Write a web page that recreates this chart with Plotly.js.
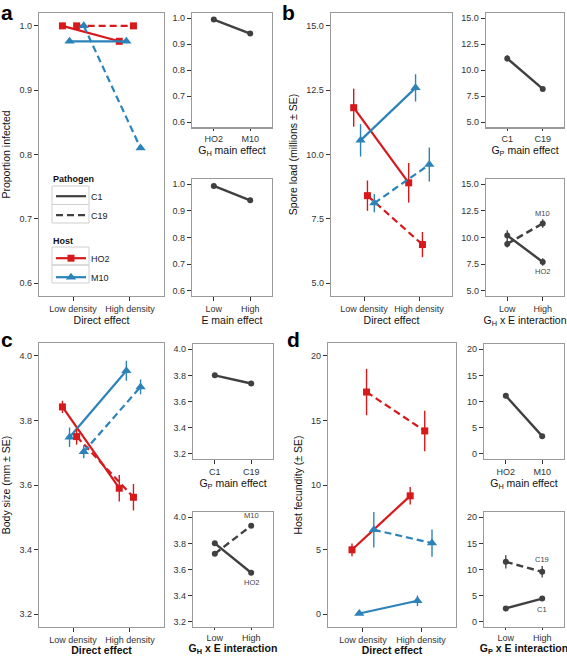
<!DOCTYPE html>
<html><head><meta charset="utf-8">
<script src="https://cdn.plot.ly/plotly-3.0.1.min.js"></script>
<style>body{margin:0;background:#fff}#chart{width:567px;height:656px}</style>
</head><body><div id="chart"></div>
<script>
// ---------- categories / tick labels ----------
const densities = ["Low density", "High density"];
const densityShort = ["Low", "High"];
const hostNames = ["HO2", "M10"];
const pathogenNames = ["C1", "C19"];

// ---------- panel a: proportion infected ----------
const infHO2C1 = [1.0, 0.976];
const infM10C1 = [0.976, 0.976];
const infHO2C19 = [1.0, 1.0];
const infM10C19 = [1.0, 0.81];
const infHostMain = [0.995, 0.941];      // G_H main effect (HO2, M10)
const infEnvMain = [0.994, 0.940];       // E main effect (Low, High)

// ---------- panel b: spore load ----------
const sporeHO2C1 = [11.82, 8.90],  sporeHO2C1SE = [0.74, 0.77];
const sporeM10C1 = [10.55, 12.59], sporeM10C1SE = [0.63, 0.53];
const sporeHO2C19 = [8.40, 6.50],  sporeHO2C19SE = [0.59, 0.49];
const sporeM10C19 = [8.11, 9.61],  sporeM10C19SE = [0.36, 0.66];
const sporePathMain = [11.13, 8.21], sporePathMainSE = [0.30, 0.15];   // C1, C19
const sporeIntHO2 = [10.19, 7.70], sporeIntHO2SE = [0.50, 0.35];       // Low, High
const sporeIntM10 = [9.40, 11.32], sporeIntM10SE = [0.35, 0.40];

// ---------- panel c: body size ----------
const sizeHO2C1 = [3.842, 3.590],  sizeHO2C1SE = [0.019, 0.041];
const sizeM10C1 = [3.748, 3.954],  sizeM10C1SE = [0.030, 0.031];
const sizeHO2C19 = [3.750, 3.562], sizeHO2C19SE = [0.025, 0.041];
const sizeM10C19 = [3.703, 3.904], sizeM10C19SE = [0.020, 0.023];
const sizePathMain = [3.800, 3.738];
const sizeIntHO2 = [3.800, 3.575];
const sizeIntM10 = [3.720, 3.935];

// ---------- panel d: host fecundity ----------
const fecHO2C1 = [4.98, 9.16],   fecHO2C1SE = [0.49, 0.68];
const fecM10C1 = [0.05, 1.03],   fecM10C1SE = [0.0, 0.41];
const fecHO2C19 = [17.20, 14.19], fecHO2C19SE = [1.80, 1.57];
const fecM10C19 = [6.53, 5.50],  fecM10C19SE = [1.37, 1.05];
const fecHostMain = [11.10, 3.37], fecHostMainSE = [0.50, 0.25];
const fecIntC1 = [2.55, 4.43],   fecIntC1SE = [0.25, 0.35];
const fecIntC19 = [11.46, 9.56], fecIntC19SE = [1.27, 1.10];

// ---------- styling ----------
const RED = "#d7191c", BLUE = "#2b83ba", GRAY = "#404040";
const FONT = "Liberation Sans, Arial, sans-serif";
const W = 567, H = 656;
const DASH = "7px,4px";
const dodge = {HO2C1: -0.1875, M10C1: -0.0625, HO2C19: 0.0625, M10C19: 0.1875};

function xd(l, r) { return [l / W, r / W]; }
function yd(t, b) { return [1 - b / H, 1 - t / H]; }

const traces = [];
function mainTrace(ax, vals, se, host, path) {
  const col = host === "HO2" ? RED : BLUE;
  const off = dodge[host + path];
  const t = {
    type: "scatter", mode: "lines+markers", xaxis: "x" + ax, yaxis: "y" + ax,
    x: vals.map((v, i) => i + 1 + off), y: vals,
    line: {color: col, width: 2.2, dash: path === "C19" ? DASH : "solid"},
    marker: {symbol: host === "HO2" ? "square" : "triangle-up", size: host === "HO2" ? 7 : 9, color: col},
    showlegend: false, hoverinfo: "skip"
  };
  if (se) t.error_y = {type: "data", array: se, width: 0, thickness: 1.4, color: col};
  traces.push(t);
}
function smallTrace(ax, vals, se, dashed) {
  const t = {
    type: "scatter", mode: "lines+markers", xaxis: "x" + ax, yaxis: "y" + ax,
    x: vals.map((v, i) => i + 1), y: vals,
    line: {color: GRAY, width: 2.4, dash: dashed ? DASH : "solid"},
    marker: {symbol: "circle", size: 6, color: GRAY},
    showlegend: false, hoverinfo: "skip"
  };
  if (se) t.error_y = {type: "data", array: se, width: 0, thickness: 1.3, color: GRAY};
  traces.push(t);
}

// panel a
mainTrace("", infHO2C1, null, "HO2", "C1");
mainTrace("", infM10C1, null, "M10", "C1");
mainTrace("", infHO2C19, null, "HO2", "C19");
mainTrace("", infM10C19, null, "M10", "C19");
smallTrace("2", infHostMain, null, false);
smallTrace("3", infEnvMain, null, false);
// panel b
mainTrace("4", sporeHO2C1, sporeHO2C1SE, "HO2", "C1");
mainTrace("4", sporeM10C1, sporeM10C1SE, "M10", "C1");
mainTrace("4", sporeHO2C19, sporeHO2C19SE, "HO2", "C19");
mainTrace("4", sporeM10C19, sporeM10C19SE, "M10", "C19");
smallTrace("5", sporePathMain, sporePathMainSE, false);
smallTrace("6", sporeIntHO2, sporeIntHO2SE, false);
smallTrace("6", sporeIntM10, sporeIntM10SE, true);
// panel c
mainTrace("7", sizeHO2C1, sizeHO2C1SE, "HO2", "C1");
mainTrace("7", sizeM10C1, sizeM10C1SE, "M10", "C1");
mainTrace("7", sizeHO2C19, sizeHO2C19SE, "HO2", "C19");
mainTrace("7", sizeM10C19, sizeM10C19SE, "M10", "C19");
smallTrace("8", sizePathMain, null, false);
smallTrace("9", sizeIntHO2, null, false);
smallTrace("9", sizeIntM10, null, true);
// panel d
mainTrace("10", fecHO2C1, fecHO2C1SE, "HO2", "C1");
mainTrace("10", fecM10C1, fecM10C1SE, "M10", "C1");
mainTrace("10", fecHO2C19, fecHO2C19SE, "HO2", "C19");
mainTrace("10", fecM10C19, fecM10C19SE, "M10", "C19");
smallTrace("11", fecHostMain, fecHostMainSE, false);
smallTrace("12", fecIntC1, fecIntC1SE, false);
smallTrace("12", fecIntC19, fecIntC19SE, true);

// legend-only traces
traces.push({type: "scatter", mode: "lines", x: [null], y: [null], name: pathogenNames[0], legend: "legend",
  line: {color: GRAY, width: 2.2}, hoverinfo: "skip"});
traces.push({type: "scatter", mode: "lines", x: [null], y: [null], name: pathogenNames[1], legend: "legend",
  line: {color: GRAY, width: 2.2, dash: DASH}, hoverinfo: "skip"});
traces.push({type: "scatter", mode: "lines+markers", x: [null], y: [null], name: hostNames[0], legend: "legend2",
  line: {color: RED, width: 2.2}, marker: {symbol: "square", size: 7, color: RED}, hoverinfo: "skip"});
traces.push({type: "scatter", mode: "lines+markers", x: [null], y: [null], name: hostNames[1], legend: "legend2",
  line: {color: BLUE, width: 2.2}, marker: {symbol: "triangle-up", size: 9, color: BLUE}, hoverinfo: "skip"});

// ---------- axes ----------
const layout = {
  width: W, height: H, margin: {l: 0, r: 0, t: 0, b: 0},
  paper_bgcolor: "#fff", plot_bgcolor: "#fff",
  font: {family: FONT, size: 9, color: "#333"},
  annotations: [], shapes: []
};
function xAxis(name, dom, anchor, ticktext, title, bold, tickLen, standoff) {
  layout[name] = {
    domain: dom, anchor: anchor, range: [0.4, 2.6], tickvals: [1, 2], ticktext: ticktext,
    showgrid: false, zeroline: false, showline: true, mirror: true, linecolor: "#9a9a9a", linewidth: 1.3,
    ticks: "outside", ticklen: tickLen === undefined ? 4 : tickLen, tickwidth: 1, tickcolor: "#333",
    tickfont: {size: 9, color: "#333", family: FONT},
    title: {text: bold ? "<b>" + title + "</b>" : title, font: {size: 10.5, color: "#111", family: FONT},
      standoff: standoff === undefined ? 3 : standoff},
    fixedrange: true
  };
}
function yAxis(name, dom, anchor, range, tickvals, fmt, title) {
  layout[name] = {
    domain: dom, anchor: anchor, range: range, tickvals: tickvals, tickformat: fmt,
    showgrid: false, zeroline: false, showline: true, mirror: true, linecolor: "#9a9a9a", linewidth: 1.3,
    ticks: "outside", ticklen: 4, tickwidth: 1, tickcolor: "#333",
    tickfont: {size: 9, color: "#333", family: FONT},
    fixedrange: true
  };
  if (title) layout[name].title = {text: title, font: {size: 10.5, color: "#111", family: FONT}, standoff: 6};
}
const rA = [0.58, 1.02], tA = [0.6, 0.7, 0.8, 0.9, 1.0];
const rB = [4.5, 15.5], tB = [5, 7.5, 10, 12.5, 15];
const rC = [3.16, 4.04], tC = [3.2, 3.4, 3.6, 3.8, 4.0];
const rD = [-1, 21], tD = [0, 5, 10, 15, 20];

// panel a
xAxis("xaxis", xd(39, 164), "y", densities, "Direct effect", false);
yAxis("yaxis", yd(13, 296), "x", rA, tA, ".1f", "Proportion infected");
xAxis("xaxis2", xd(192, 272), "y2", hostNames, "G<sub>H</sub> main effect", false, 2, 0);
yAxis("yaxis2", yd(13, 127.5), "x2", rA, tA, ".1f");
xAxis("xaxis3", xd(192, 272), "y3", densityShort, "E main effect", false);
yAxis("yaxis3", yd(179, 296), "x3", rA, tA, ".1f");
// panel b
xAxis("xaxis4", xd(331, 452), "y4", densities, "Direct effect", false);
yAxis("yaxis4", yd(13, 296), "x4", rB, tB, ".1f", "Spore load (millions ± SE)");
xAxis("xaxis5", xd(486, 564), "y5", pathogenNames, "G<sub>P</sub> main effect", false, 2, 0);
yAxis("yaxis5", yd(13, 127.5), "x5", rB, tB, ".1f");
xAxis("xaxis6", xd(486, 564), "y6", densityShort, "G<sub>H</sub> x E interaction", false);
yAxis("yaxis6", yd(179, 296), "x6", rB, tB, ".1f");
// panel c
xAxis("xaxis7", xd(39, 164), "y7", densities, "Direct effect", true);
yAxis("yaxis7", yd(343, 627), "x7", rC, tC, ".1f", "Body size (mm ± SE)");
xAxis("xaxis8", xd(193, 273), "y8", pathogenNames, "G<sub>P</sub> main effect", false);
yAxis("yaxis8", yd(344, 459), "x8", rC, tC, ".1f");
xAxis("xaxis9", xd(193, 273), "y9", densityShort, "G<sub>H</sub> x E interaction", true, 2, 4);
yAxis("yaxis9", yd(512, 627), "x9", rC, tC, ".1f");
// panel d
xAxis("xaxis10", xd(328, 456), "y10", densities, "Direct effect", true);
yAxis("yaxis10", yd(343, 627), "x10", rD, tD, "d", "Host fecundity (± SE)");
xAxis("xaxis11", xd(484, 564), "y11", hostNames, "G<sub>H</sub> main effect", false);
yAxis("yaxis11", yd(344, 459), "x11", rD, tD, "d");
xAxis("xaxis12", xd(484, 564), "y12", densityShort, "G<sub>P</sub> x E interaction", true, 2, 4);
yAxis("yaxis12", yd(512, 627), "x12", rD, tD, "d");

// ---------- interaction labels ----------
function lab(ax, text, y, shift) {
  layout.annotations.push({xref: "x" + ax, yref: "y" + ax, x: 2, y: y, text: text, showarrow: false,
    yshift: shift, font: {size: 7.5, color: "#444", family: FONT}});
}
lab("6", hostNames[1], sporeIntM10[1], 10);
lab("6", hostNames[0], sporeIntHO2[1], -10);
lab("9", hostNames[1], sizeIntM10[1], 10);
lab("9", hostNames[0], sizeIntHO2[1], -10);
lab("12", pathogenNames[1], fecIntC19[1], 12);
lab("12", pathogenNames[0], fecIntC1[1], -11);

// ---------- panel letters ----------
[["a", 0, 0], ["b", 281, 0], ["c", 0, 327], ["d", 286, 327]].forEach(p => {
  layout.annotations.push({xref: "paper", yref: "paper", x: p[1] / W, y: 1 - p[2] / H, xanchor: "left", yanchor: "top",
    borderpad: 0, text: "<b>" + p[0] + "</b>", showarrow: false, font: {size: 21, color: "#000", family: FONT}});
});

// ---------- legends ----------
layout.legend = {x: 51 / W, y: 1 - 170 / H, xanchor: "left", yanchor: "top", bgcolor: "rgba(0,0,0,0)",
  title: {text: "<b>Pathogen</b>", font: {size: 9, color: "#111", family: FONT}},
  font: {size: 9, color: "#222", family: FONT}, itemwidth: 30, tracegroupgap: 0};
layout.legend2 = {x: 51 / W, y: 1 - 232 / H, xanchor: "left", yanchor: "top", bgcolor: "rgba(0,0,0,0)",
  title: {text: "<b>Host</b>", font: {size: 9, color: "#111", family: FONT}},
  font: {size: 9, color: "#222", family: FONT}, itemwidth: 30, tracegroupgap: 0};

// legend key frames (decoration around legend keys, paper coords)
[[186, 204.5], [204.5, 223], [247, 265], [265, 283]].forEach(r => {
  layout.shapes.push({type: "rect", xref: "paper", yref: "paper", x0: 52 / W, x1: 89 / W,
    y0: 1 - r[1] / H, y1: 1 - r[0] / H, line: {color: "#cfcfcf", width: 1}, layer: "below"});
});

Plotly.newPlot("chart", traces, layout, {staticPlot: true, displayModeBar: false});
</script>
</body></html>
